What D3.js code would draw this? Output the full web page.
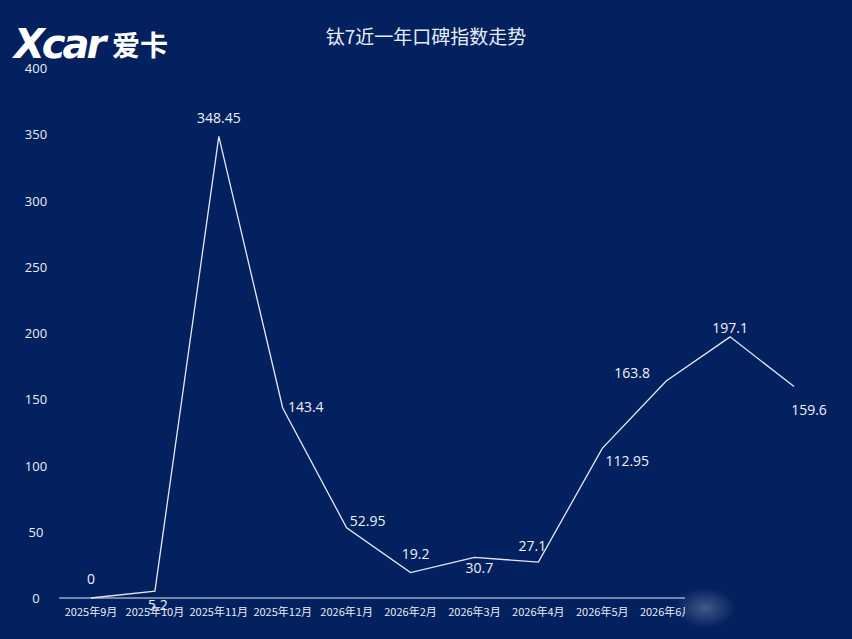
<!DOCTYPE html>
<html><head><meta charset="utf-8">
<script src="https://cdn.jsdelivr.net/npm/d3@7"></script>
<style>body{margin:0;background:#03215f}svg{display:block}</style>
</head><body><svg width="852" height="639"></svg>
<script>
const months = ['2025年9月','2025年10月','2025年11月','2025年12月','2026年1月','2026年2月','2026年3月','2026年4月','2026年5月','2026年6月','2026年7月','2026年8月'];
const values = [0, 5.2, 348.45, 143.4, 52.95, 19.2, 30.7, 27.1, 112.95, 163.8, 197.1, 159.6];
const yTicks = [0, 50, 100, 150, 200, 250, 300, 350, 400];

// label offsets (dx, dy) relative to each point
const labelOffsets = [[0,-14],[3,19],[0,-13],[23,4],[21,-2],[5,-14],[5,16],[-6,-11],[25,18],[-34,-3],[0,-4],[15,28]];

const svg = d3.select('svg');
const x = d3.scalePoint().domain(months).range([91, 794]);
const y = d3.scaleLinear().domain([0, 400]).range([598, 68]);

svg.append('rect').attr('width', 852).attr('height', 639).attr('fill', '#03215f');

svg.append('text').attr('x', 426).attr('y', 44).attr('text-anchor', 'middle')
  .attr('fill', '#e8ecf5').style('font', '19px "Noto Sans CJK SC"').text('钛7近一年口碑指数走势');

// logo
const logo = svg.append('g');
logo.append('text').attr('x', 14).attr('y', 58).attr('fill', '#fff')
  .style('font', 'italic 900 40px "DejaVu Sans"').style('letter-spacing', '-3px').text('Xcar');
logo.append('text').attr('x', 112).attr('y', 56).attr('fill', '#fff')
  .style('font', '600 28px "Noto Sans CJK SC"').text('爱卡');

// y axis labels
svg.selectAll('.yt').data(yTicks).enter().append('text')
  .attr('x', 36).attr('y', d => y(d) + 5).attr('text-anchor', 'middle')
  .attr('fill', '#e8ecf5').style('font', '13px "Open Sans"').text(d => d);

// x axis line and labels
svg.append('line').attr('x1', 59).attr('x2', 685).attr('y1', y(0)).attr('y2', y(0))
  .attr('stroke', '#e8ecf5').attr('stroke-width', 1);
svg.append('clipPath').attr('id', 'cl').append('rect').attr('x', 0).attr('y', 590).attr('width', 685).attr('height', 40);
svg.append('g').attr('clip-path', 'url(#cl)').selectAll('text').data(months).enter().append('text')
  .attr('x', d => x(d)).attr('y', 616).attr('text-anchor', 'middle')
  .attr('fill', '#e8ecf5').style('font', '11px "Noto Sans CJK SC"').text(d => d);

// watermark fade
const grad = svg.append('defs').append('radialGradient').attr('id', 'wm');
grad.append('stop').attr('offset', '0%').attr('stop-color', '#ffffff').attr('stop-opacity', 0.25);
grad.append('stop').attr('offset', '100%').attr('stop-color', '#ffffff').attr('stop-opacity', 0);
svg.append('ellipse').attr('cx', 705).attr('cy', 608).attr('rx', 30).attr('ry', 20).attr('fill', 'url(#wm)');

// line
svg.append('path').datum(values)
  .attr('d', d3.line().x((d, i) => x(months[i])).y(d => y(d)))
  .attr('fill', 'none').attr('stroke', '#e6e9f2').attr('stroke-width', 1.3);

// value labels
svg.selectAll('.vl').data(values).enter().append('text')
  .attr('x', (d, i) => x(months[i]) + labelOffsets[i][0])
  .attr('y', (d, i) => y(d) + labelOffsets[i][1])
  .attr('text-anchor', 'middle').attr('fill', '#eef1f7')
  .style('font', '14px "Open Sans"').text(d => d);
</script></body></html>
